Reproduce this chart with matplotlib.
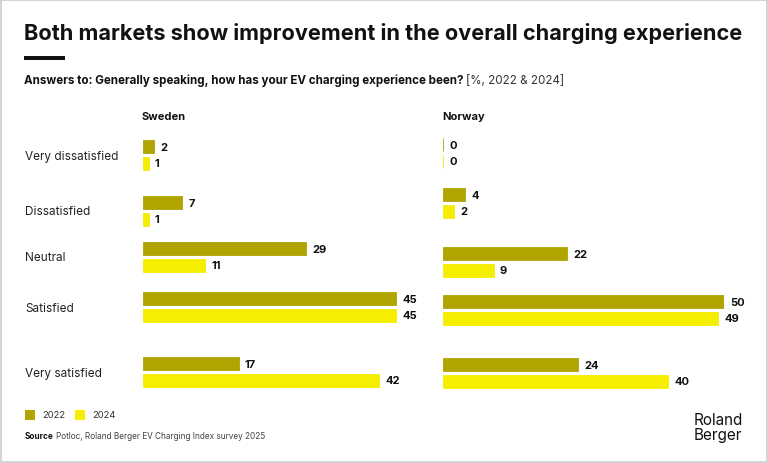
import matplotlib
matplotlib.use("Agg")
import matplotlib.pyplot as plt
from matplotlib.patches import Rectangle

plt.rcParams['font.family'] = ['Inter', 'DejaVu Sans']

# Data
categories = ['Very dissatisfied', 'Dissatisfied', 'Neutral', 'Satisfied', 'Very satisfied']
sweden_2022 = [2, 7, 29, 45, 17]
sweden_2024 = [1, 1, 11, 45, 42]
norway_2022 = [0, 4, 22, 50, 24]
norway_2024 = [0, 2, 9, 49, 40]

title = "Both markets show improvement in the overall charging experience"
subtitle = "Answers to: Generally speaking, how has your EV charging experience been?"
unit_note = "[%, 2022 & 2024]"
source = "Potloc, Roland Berger EV Charging Index survey 2025"

# Layout (pixel rows of each group centre, as in the original layout)
sweden_rows = [156, 212, 258, 308, 373]
norway_rows = [154, 204, 263, 311, 374]
label_rows = [157, 212, 258, 309, 374]

c2022 = '#B0A400'
c2024 = '#F5EE00'
W, H = 768, 464

fig = plt.figure(figsize=(W / 100, H / 100), dpi=100)


def fx(x):
    return x / W


def fy(y):
    return 1 - y / H


# frame
fig.patches.append(Rectangle((fx(1), fy(463)), fx(766), 1 - 2 / H, transform=fig.transFigure,
                             fill=False, edgecolor='#cccccc', lw=1.2))

fig.text(fx(24), fy(33), title, fontsize=15.6, fontweight='bold', va='center', ha='left', color='#111111')
fig.patches.append(Rectangle((fx(24), fy(61)), 41 / W, 4 / H, transform=fig.transFigure,
                             color='#111111', lw=0))
t = fig.text(fx(24), fy(81), subtitle, fontsize=8.35, fontweight='bold', va='center', ha='left',
             color='#111111')
fig.canvas.draw()
bb = t.get_window_extent()
fig.text(bb.x1 / W + 3 / W, fy(81), unit_note, fontsize=8.35, va='center', ha='left', color='#333333')


def panel(left, name, v22, v24, rows):
    ax = fig.add_axes([fx(left), fy(400), 281 / W, 270 / H])
    ax.set_xlim(0, 50)
    ax.set_ylim(400, 130)
    ax.axis('off')
    y22 = [r - 8.3 for r in rows]
    y24 = [r + 8.3 for r in rows]
    ax.barh(y22, v22, height=13.5, color=c2022, edgecolor=c2022, lw=0.6)
    ax.barh(y24, v24, height=13.5, color=c2024, edgecolor=c2024, lw=0.6)
    for y, v in list(zip(y22, v22)) + list(zip(y24, v24)):
        ax.annotate(str(v), (v, y), xytext=(4.5, 0), textcoords='offset points',
                    va='center', ha='left', fontsize=8, fontweight='bold', color='#111111')
    fig.text(fx(left - 1), fy(117), name, fontsize=8, fontweight='bold', va='center', ha='left',
             color='#111111')


panel(143, 'Sweden', sweden_2022, sweden_2024, sweden_rows)
panel(443, 'Norway', norway_2022, norway_2024, norway_rows)

for cat, r in zip(categories, label_rows):
    fig.text(fx(25), fy(r), cat, fontsize=8.5, va='center', ha='left', color='#222222')

# legend
for x, c, lab in [(25, c2022, '2022'), (75, c2024, '2024')]:
    fig.patches.append(Rectangle((fx(x), fy(421)), 10 / W, 10 / H, transform=fig.transFigure,
                                 color=c, lw=0))
    fig.text(fx(x + 17), fy(416), lab, fontsize=6.8, va='center', ha='left', color='#333333')

s = fig.text(fx(25), fy(437), "Source", fontsize=5.9, fontweight='bold', va='center', ha='left',
             color='#111111')
fig.canvas.draw()
bb = s.get_window_extent()
fig.text(bb.x1 / W + 2 / W, fy(437), source, fontsize=5.9, va='center', ha='left', color='#444444')

fig.text(fx(694), fy(428), "Roland\nBerger", fontsize=11, va='center', ha='left',
         linespacing=0.95, color='#111111')

fig.savefig('out.png', dpi=100)
